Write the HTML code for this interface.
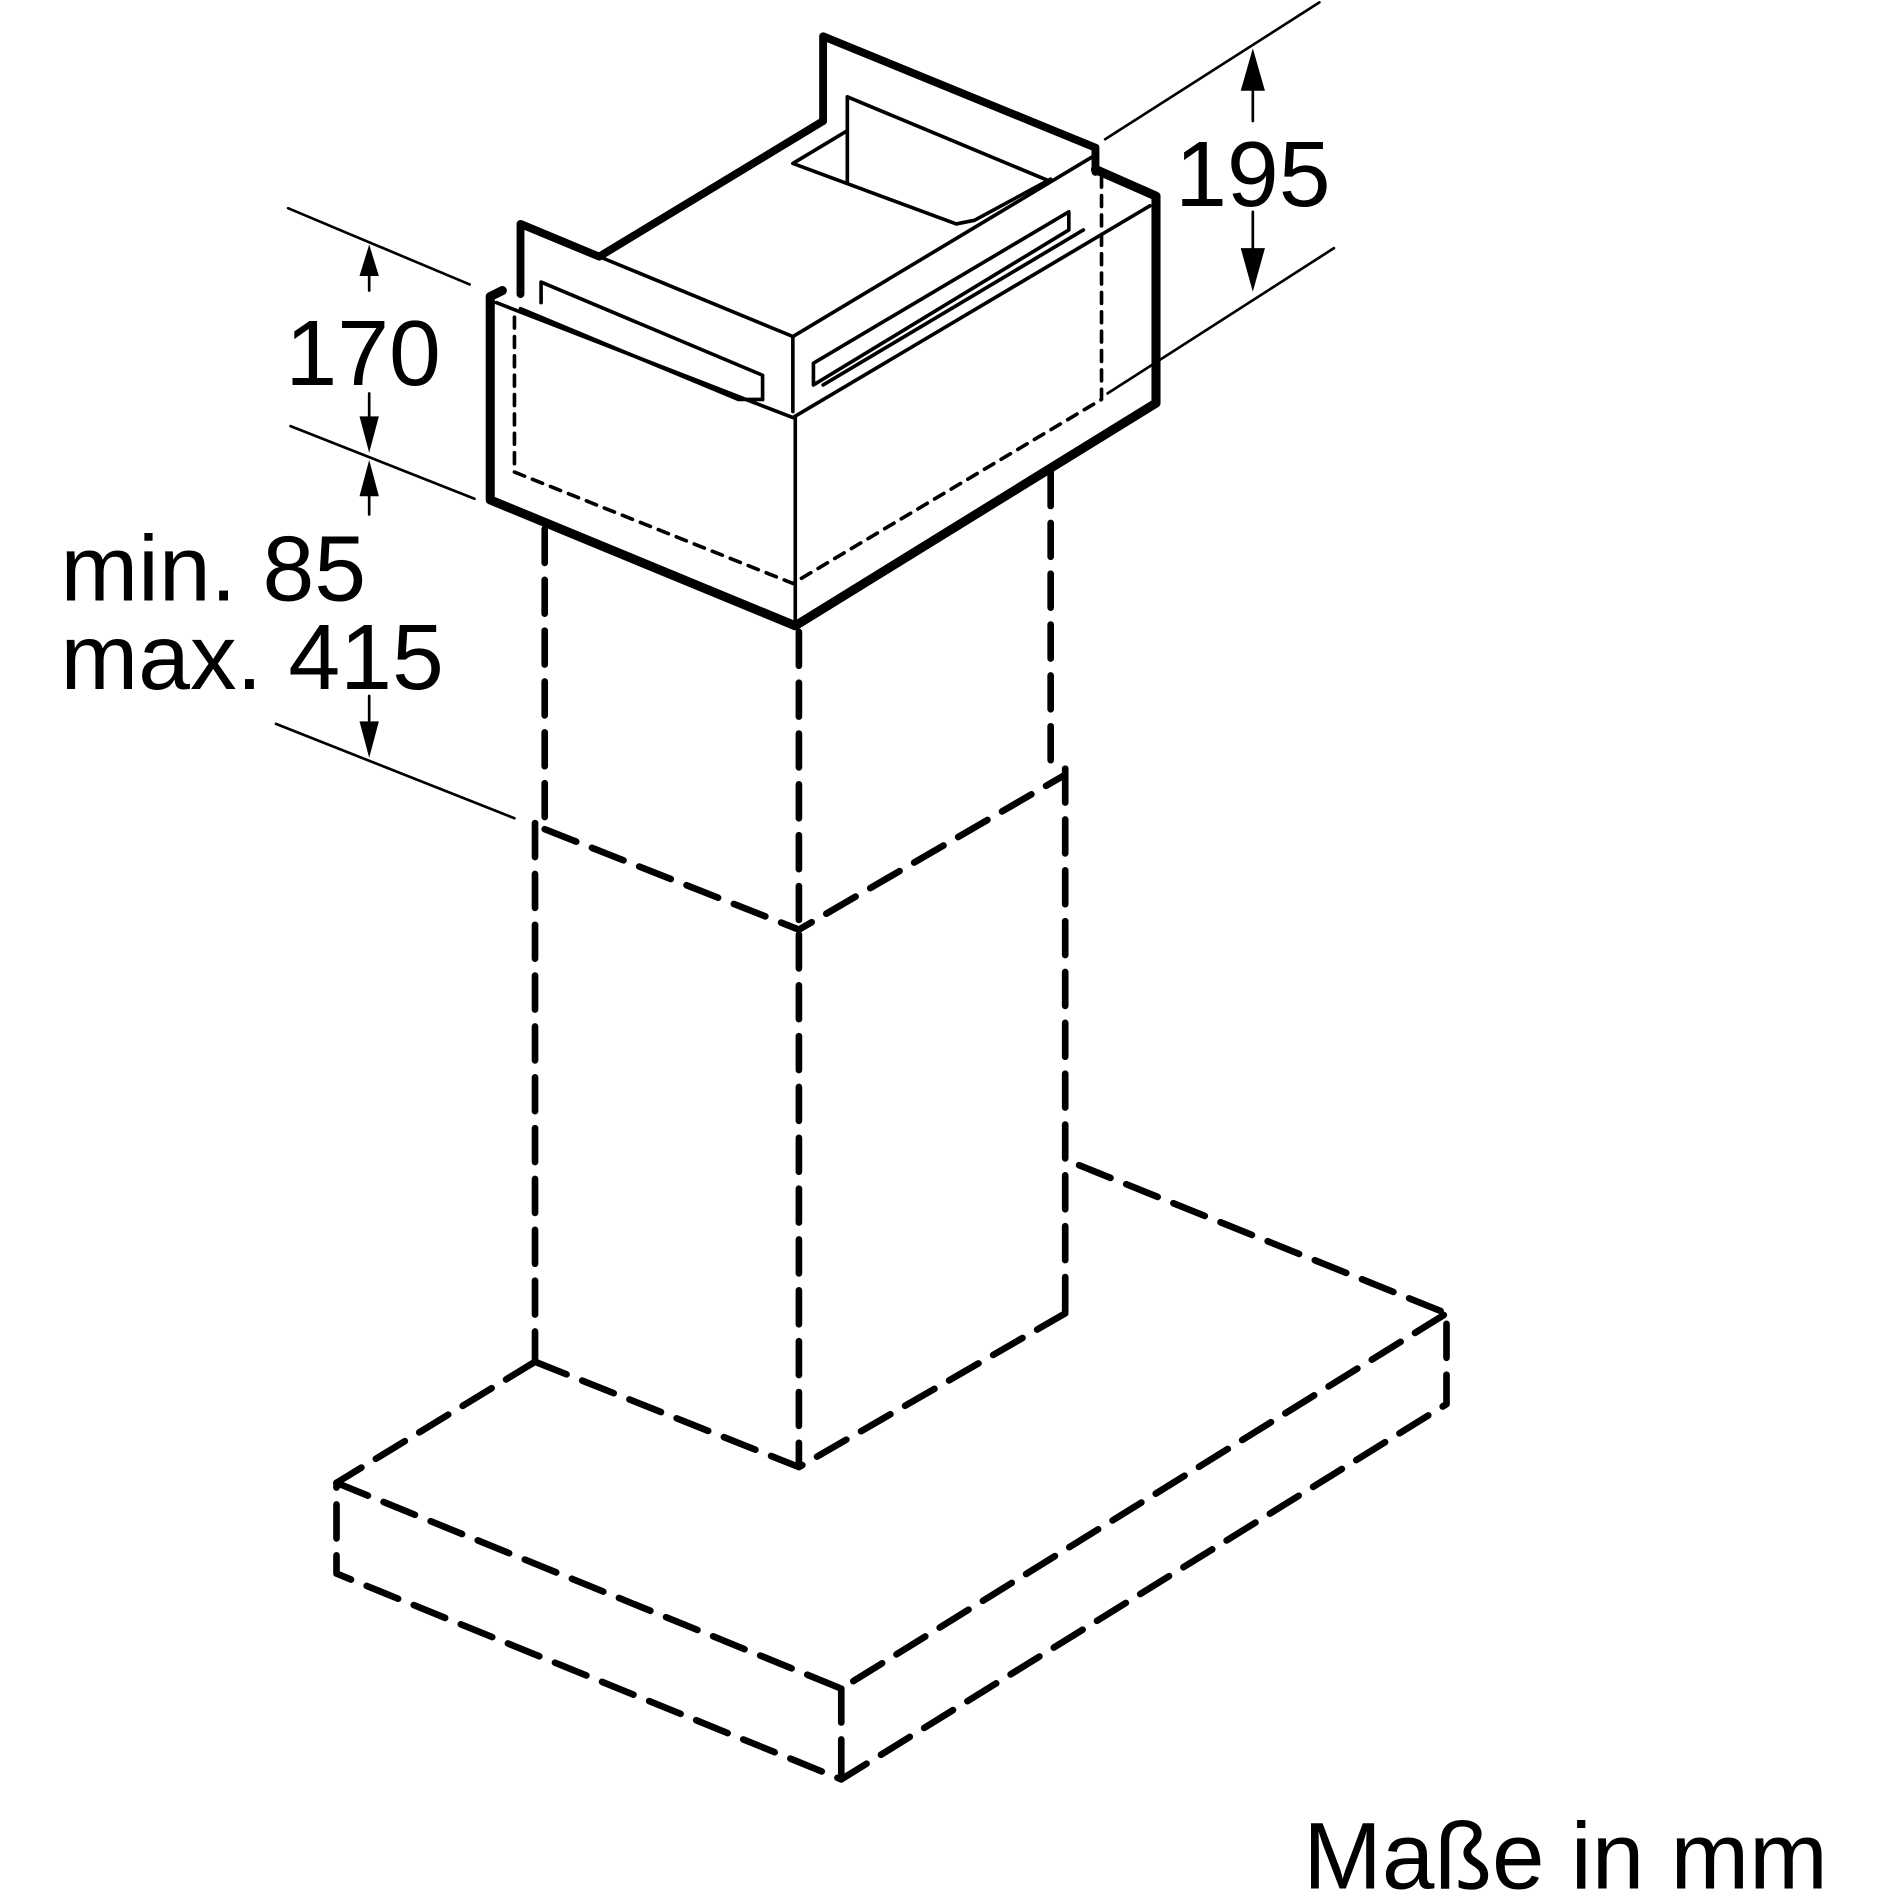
<!DOCTYPE html>
<html><head><style>html,body{margin:0;padding:0;background:#fff;}svg{display:block}</style></head>
<body>
<svg width="1898" height="1898" viewBox="0 0 1568 1568" xmlns="http://www.w3.org/2000/svg">
<g fill="none" stroke="#000" stroke-linejoin="round" stroke-linecap="round">
<!-- chute -->
<polyline points="680,100 680,30 905,122 905,142" stroke-width="6.5"/>
<polyline points="680,100 495,212 430,185 430,243" stroke-width="6.5"/>
<polyline points="495,212 655,278 905,128" stroke-width="3"/>
<line x1="655" y1="278" x2="655" y2="340" stroke-width="3"/>
<polyline points="700,150 700,80 868,150" stroke-width="3"/>
<polyline points="700,108 655,135 790,185 805,182 868,148" stroke-width="3"/>
<polyline points="447,250 447,233 630,310 630,330" stroke-width="3"/>
<polygon points="672,300 883,175 883,190 672,318" stroke-width="3"/>
<polyline points="430,255 610,330 630,330" stroke-width="3"/>
<polyline points="680,318 895,190" stroke-width="3"/>
<!-- box -->
<polyline points="905,140 955,162 955,333 657,517 405,413 405,245 415,240" stroke-width="7.5"/>
<polyline points="410,250 655,345 950,170" stroke-width="3"/>
<line x1="657" y1="345" x2="657" y2="517" stroke-width="3"/>
<polyline points="425,262 425,390 655,482 910,330 910,145" stroke-width="3" stroke-dasharray="9 7"/>
<!-- dimension lines -->
<g stroke-width="2.2">
<line x1="238" y1="172" x2="388" y2="235"/>
<line x1="240" y1="352" x2="392" y2="412"/>
<line x1="228" y1="598" x2="425" y2="676"/>
<line x1="913" y1="115" x2="1090" y2="2"/>
<line x1="915" y1="325" x2="1102" y2="205"/>
<line x1="305" y1="225" x2="305" y2="240"/>
<line x1="305" y1="325" x2="305" y2="345"/>
<line x1="305" y1="410" x2="305" y2="425"/>
<line x1="305" y1="575" x2="305" y2="595"/>
<line x1="1035" y1="70" x2="1035" y2="100"/>
<line x1="1035" y1="175" x2="1035" y2="205"/>
</g>
<!-- dashed column/base -->
<g stroke-width="5.5" stroke-dasharray="28 14">
<line x1="450" y1="437" x2="450" y2="685"/>
<line x1="660" y1="522" x2="660" y2="765"/>
<line x1="868" y1="390" x2="868" y2="640"/>
<polyline points="450,685 660,768 880,640"/>
<line x1="442" y1="680" x2="442" y2="1125"/>
<line x1="660" y1="772" x2="660" y2="1210"/>
<line x1="880" y1="635" x2="880" y2="1085"/>
<polyline points="442,1125 278,1225 278,1300 695,1470 1195,1160 1195,1085 880,958"/>
<polyline points="442,1125 660,1212 880,1085"/>
<polyline points="278,1225 695,1395 1195,1085"/>
<line x1="695" y1="1395" x2="695" y2="1470"/>
</g>
</g>
<!-- arrowheads -->
<g fill="#000">
<polygon points="305,202 297,228 313,228"/>
<polygon points="305,374 297,344 313,344"/>
<polygon points="305,380 297,410 313,410"/>
<polygon points="305,626 297,596 313,596"/>
<polygon points="1035,40 1025,75 1045,75"/>
<polygon points="1035,241 1025,205 1045,205"/>
</g>
<g font-family="Liberation Sans, sans-serif" font-size="77" fill="#000">
<text x="300" y="318" text-anchor="middle">170</text>
<text x="1035" y="170" text-anchor="middle">195</text>
<text x="50" y="496">min. 85</text>
<text x="50" y="569">max. 415</text>
<text x="1510" y="1560" text-anchor="end" font-size="78">Maße in mm</text>
</g>
</svg>
</body></html>
